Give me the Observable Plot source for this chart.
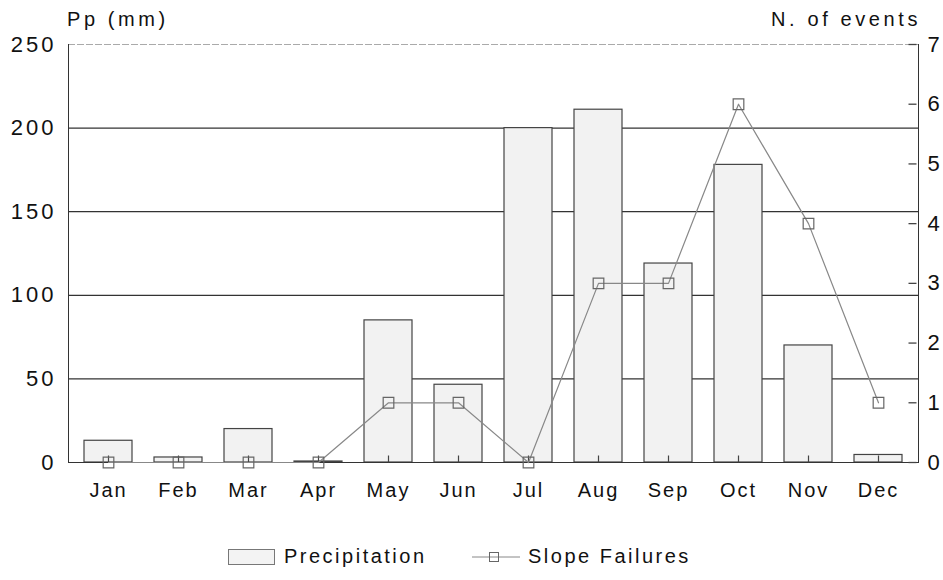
<!DOCTYPE html>
<html>
<head>
<meta charset="utf-8">
<script src="https://cdn.jsdelivr.net/npm/d3@7"></script>
<script src="https://cdn.jsdelivr.net/npm/@observablehq/plot@0.6"></script>
<style>
  html, body { margin: 0; padding: 0; background: #fff; }
  body { width: 943px; height: 580px; overflow: hidden; font-family: "Liberation Sans", Arial, sans-serif; color: #111; }
  #chart { position: relative; width: 943px; height: 510px; }
  .ttl { position: absolute; top: 8px; font-size: 20px; letter-spacing: 3.6px; color: #111; }
  #legend { position: relative; height: 70px; }
  .lg { position: absolute; font-size: 20px; letter-spacing: 2.5px; color: #111; }
</style>
</head>
<body>
<div id="chart">
  <div class="ttl" style="left:67px">Pp (mm)</div>
  <div class="ttl" style="right:22px">N. of events</div>
</div>
<div id="legend">
  <div style="position:absolute;left:228px;top:39px;width:45px;height:14px;border:1px solid #777;background:#f3f3f3"></div>
  <div class="lg" style="left:284px;top:35px">Precipitation</div>
  <svg style="position:absolute;left:472px;top:40px" width="48" height="14">
    <line x1="0" y1="7" x2="48" y2="7" stroke="#888" stroke-width="1"/>
    <rect x="17.5" y="2.5" width="9" height="9" fill="none" stroke="#666"/>
  </svg>
  <div class="lg" style="left:528px;top:35px">Slope Failures</div>
</div>
<script>
const months = ["Jan","Feb","Mar","Apr","May","Jun","Jul","Aug","Sep","Oct","Nov","Dec"];
const precipitation = [13, 3, 20, 0.6, 85, 46.5, 200, 211, 119, 178, 70, 4.5];
const slopeFailures = [0, 0, 0, 0, 1, 1, 0, 3, 3, 6, 4, 1];
const leftTicks = [0, 50, 100, 150, 200, 250];
const rightTicks = [0, 1, 2, 3, 4, 5, 6, 7];
const gridValues = [50, 100, 150, 200];
const ppMax = 250;
const eventsMax = 7;
const k = ppMax / eventsMax;

const data = months.map((m, i) => ({month: m, pp: precipitation[i], ev: slopeFailures[i]}));

// small inward tick glyphs used as dot symbols
const vTick = {draw(ctx) { ctx.moveTo(0, 0); ctx.lineTo(0, -7); }};
const hTick = {draw(ctx) { ctx.moveTo(-2, 0); ctx.lineTo(-10, 0); }};

const chart = Plot.plot({
  width: 943,
  height: 510,
  marginTop: 44,
  marginLeft: 68,
  marginRight: 25,
  marginBottom: 48,
  style: {fontFamily: "Liberation Sans, Arial, sans-serif", color: "#111", background: "transparent"},
  x: {domain: months, paddingInner: 0.32, paddingOuter: 0.16, axis: null},
  y: {domain: [0, ppMax], axis: null},
  marks: [
    Plot.ruleY([ppMax], {stroke: "#aaa", strokeDasharray: "7,2"}),
    Plot.ruleY(gridValues, {stroke: "#333", strokeWidth: 1.2}),
    Plot.barY(data, {x: "month", y: "pp", fill: "#f2f2f2", stroke: "#444", strokeWidth: 1.2}),
    Plot.frame({anchor: "left", stroke: "#333"}),
    Plot.frame({anchor: "right", stroke: "#333"}),
    Plot.ruleY([0], {stroke: "#333", strokeWidth: 1.2}),
    Plot.dot(months, {x: d => d, frameAnchor: "bottom", symbol: vTick, r: 5, stroke: "#444", fill: "none", strokeWidth: 1.2}),
    Plot.dot(rightTicks, {y: d => d * k, frameAnchor: "right", symbol: hTick, r: 5, stroke: "#444", fill: "none", strokeWidth: 1.3}),
    Plot.axisX({tickSize: 0, tickPadding: 20, fontSize: 20, label: null, fill: "#111"}),
    Plot.axisY({anchor: "left", ticks: leftTicks, tickSize: 0, tickPadding: 12, fontSize: 22, label: null, fill: "#111"}),
    Plot.axisY({anchor: "right", ticks: rightTicks.map(v => v * k), tickFormat: v => String(Math.round(v / k)), tickSize: 0, tickPadding: 9, fontSize: 22, label: null, fill: "#111"}),
    Plot.line(data, {x: "month", y: d => d.ev * k, stroke: "#888", strokeWidth: 1.2}),
    Plot.dot(data, {x: "month", y: d => d.ev * k, symbol: "square", r: 6, stroke: "#666", fill: "none", strokeWidth: 1.2})
  ]
});
d3.select(chart).selectAll("g[aria-label='x-axis tick label'] text").style("letter-spacing", "2px");
d3.select(chart).selectAll("g[aria-label='y-axis tick label'] text").style("letter-spacing", "3px");
document.getElementById("chart").appendChild(chart);
</script>
</body>
</html>
